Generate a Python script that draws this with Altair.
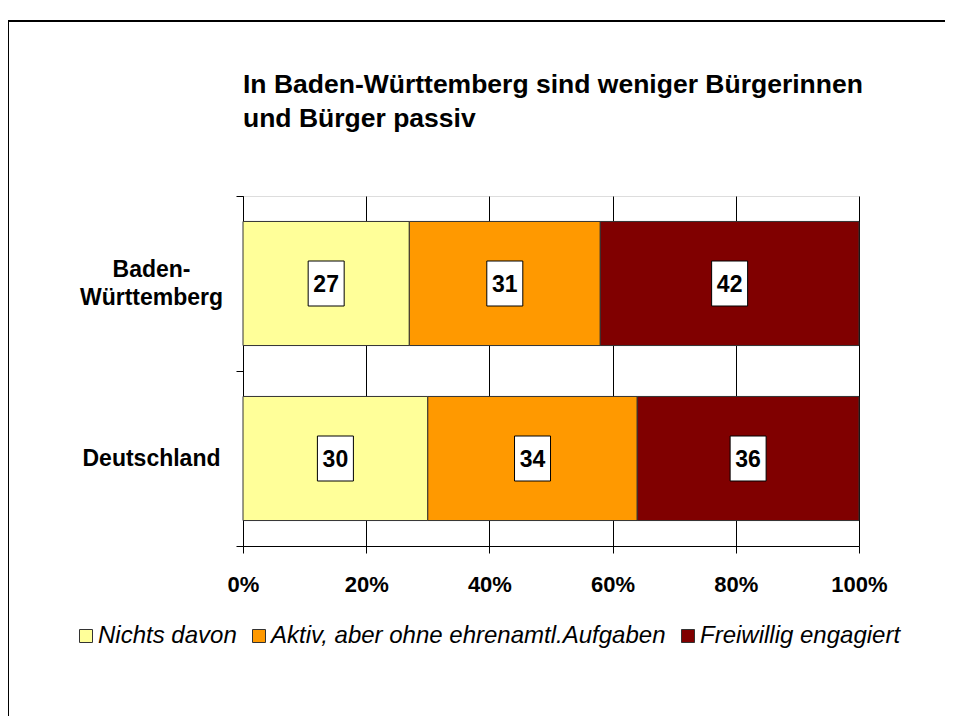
import altair as alt
import pandas as pd

regions = ["Baden-Württemberg", "Deutschland"]
categories = ["Nichts davon", "Aktiv, aber ohne ehrenamtl.Aufgaben", "Freiwillig engagiert"]
bw_values = [27, 31, 42]
de_values = [30, 34, 36]
colors = ["#FFFF99", "#FF9900", "#800000"]
x_ticks = [0, 0.2, 0.4, 0.6, 0.8, 1.0]
title_lines = ["In Baden-Württemberg sind weniger Bürgerinnen", "und Bürger passiv"]

rows = []
for r, vals in zip(regions, [bw_values, de_values]):
    for i, (c, v) in enumerate(zip(categories, vals)):
        rows.append({"region": r, "category": c, "value": v, "idx": i})
df = pd.DataFrame(rows)

FONT = "Liberation Sans"

x_scale = alt.Scale(domain=[0, 1])
x_axis = alt.Axis(values=x_ticks, format=".0%", grid=True, gridColor="black", gridOpacity=1,
                  gridWidth=1, tickColor="black", tickSize=7, domainColor="black",
                  labelFont=FONT, labelFontSize=22, labelFontWeight="bold", labelColor="black",
                  labelPadding=21, labelFlush=False, title=None)
y_scale = alt.Scale(paddingInner=0, paddingOuter=0)
y_axis = alt.Axis(tickBand="extent", grid=False,
                  labelExpr="datum.value == 'Baden-Württemberg' ? ['Baden-', 'Württemberg'] : datum.label",
                  labelAlign="center", labelPadding=85, labelFont=FONT, labelFontSize=23,
                  labelFontWeight="bold", labelColor="black", labelLineHeight=28,
                  labelOffset={"condition": {"test": "datum.value == 'Baden-Württemberg'", "value": -14},
                               "value": 0},
                  tickColor="black", tickSize=7, domainColor="black", title=None)
y_enc = alt.Y("region:N", sort=regions, scale=y_scale, axis=y_axis, title=None)

bars = alt.Chart(df).mark_bar(stroke="#333333", strokeWidth=1, height={"band": 0.709}).encode(
    x=alt.X("value:Q", stack="normalize", scale=x_scale, axis=x_axis, title=None),
    y=y_enc,
    color=alt.Color("category:N", scale=alt.Scale(domain=categories, range=colors),
                    legend=alt.Legend(title=None, orient="none", legendX=-169, legendY=428,
                                      direction="horizontal", symbolType="square", symbolSize=169,
                                      symbolStrokeColor="#333333", symbolStrokeWidth=1,
                                      symbolOpacity=1, labelFont=FONT, labelFontSize=24,
                                      labelFontStyle="italic", labelColor="black", labelOffset=0,
                                      columnPadding=10, labelLimit=600)),
    order=alt.Order("idx:Q"),
)

lbl_base = alt.Chart(df).transform_stack(
    stack="value", groupby=["region"], as_=["x0", "x1"], offset="normalize",
    sort=[alt.SortField("idx")]
).transform_calculate(mid="(datum.x0 + datum.x1) / 2")

boxes = lbl_base.mark_point(shape="M-0.8,-1H0.8V1H-0.8Z", size=2025, filled=True, fill="white",
                            stroke="black", strokeWidth=1, opacity=1).encode(
    x=alt.X("mid:Q", scale=x_scale, axis=x_axis, title=None),
    y=y_enc,
)
texts = lbl_base.mark_text(font=FONT, fontSize=23, fontWeight="bold", color="black",
                           baseline="middle", dy=1).encode(
    x=alt.X("mid:Q", scale=x_scale, axis=x_axis, title=None),
    y=y_enc,
    text=alt.Text("value:Q"),
)

one = alt.Data(values=[{}])
title1 = alt.Chart(one).mark_text(text=title_lines[0], font=FONT, fontSize=26.5, fontWeight="bold",
                                  color="black", align="left", baseline="alphabetic").encode(
    x=alt.value(0), y=alt.value(-103))
title2 = alt.Chart(one).mark_text(text=title_lines[1], font=FONT, fontSize=26.5, fontWeight="bold",
                                  color="black", align="left", baseline="alphabetic").encode(
    x=alt.value(0), y=alt.value(-69))

frame_top = alt.Chart(one).mark_rect(color="black", strokeWidth=0).encode(
    x=alt.value(-236), x2=alt.value(720), y=alt.value(-176), y2=alt.value(-174))
frame_left = alt.Chart(one).mark_rect(color="black", strokeWidth=0).encode(
    x=alt.value(-236), x2=alt.value(-234), y=alt.value(-176), y2=alt.value(540))

chart = alt.layer(frame_top, frame_left, bars, boxes, texts, title1, title2).properties(
    width=616, height=350,
    autosize=alt.AutoSizeParams(type="none"),
    padding={"left": 235, "top": 188, "right": 86, "bottom": 170},
).configure_view(stroke="black", strokeWidth=1).configure(background="white")

chart.save("out.html", embed_options={"renderer": "svg", "actions": False})
